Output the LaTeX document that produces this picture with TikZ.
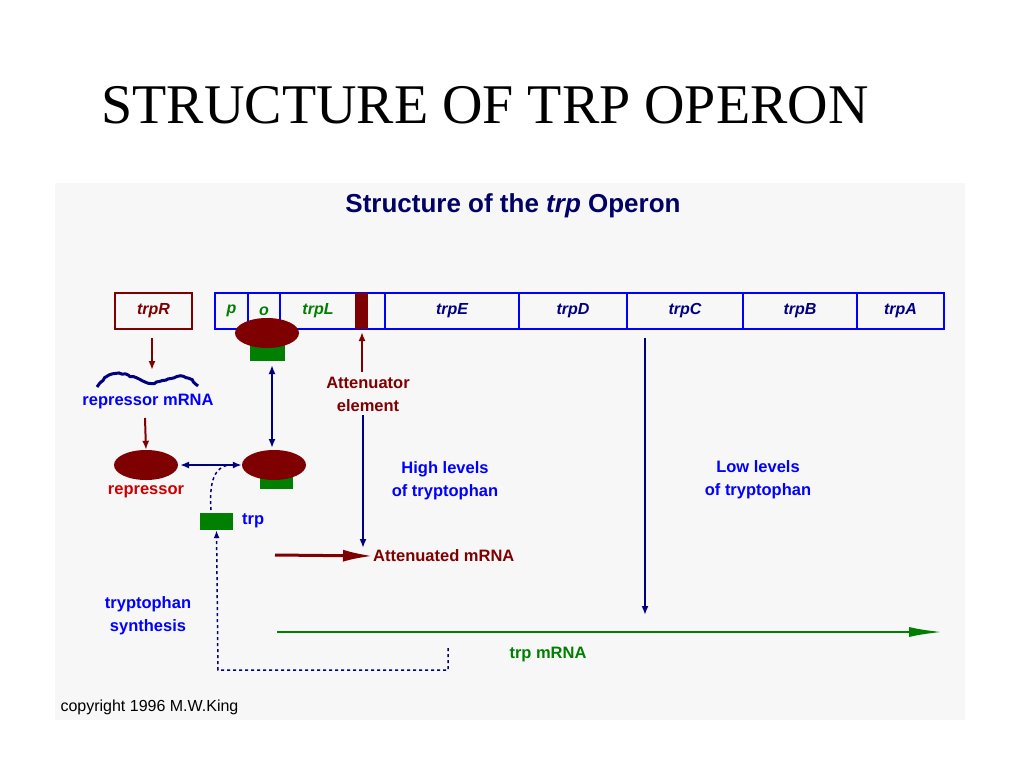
\documentclass[tikz,border=0pt]{standalone}
\usepackage{fontspec}
\setmainfont{Liberation Serif}
\setsansfont{Liberation Sans}
\usetikzlibrary{arrows.meta,decorations.pathmorphing,shapes.geometric}
\definecolor{dr}{HTML}{7F0000}
\definecolor{gr}{HTML}{007F00}
\definecolor{db}{HTML}{000080}
\tikzset{
 gene/.style={draw=blue,line width=1.2pt,minimum height=36pt,inner sep=0pt,font=\sffamily\bfseries\itshape\fontsize{16}{16}\selectfont},
 lbl/.style={font=\sffamily\bfseries\fontsize{16.5}{23}\selectfont,align=center,inner sep=0pt},
 rep/.style={ellipse,fill=dr,minimum width=64pt,minimum height=30pt,inner sep=0pt},
 trpbox/.style={fill=gr,inner sep=0pt},
 ar/.style={-{Latex[length=9pt,width=7pt]},line width=2pt},
}
\begin{document}
\begin{tikzpicture}[x=1pt,y=-1pt]
\useasboundingbox (0,0) rectangle (1024,768);
\fill[white] (0,0) rectangle (1024,768);
\fill[black!3] (55,183) rectangle (965,720);
\node[font=\fontsize{56}{56}\selectfont,anchor=west] (title) at (98,105) {STRUCTURE OF TRP OPERON};
\node[font=\sffamily\bfseries\fontsize{26}{26}\selectfont,text=db!80!black] (sub) at (513,206) {Structure of the \textit{trp} Operon};
% genes
\node[gene,draw=dr,text=dr,minimum width=77pt] (trpR) at (153.5,311) {trpR};
\node[gene,text=gr,minimum width=33pt] (p) at (231.5,311) {p};
\node[gene,text=gr,minimum width=32pt] (o) at (264,311) {o};
\node[gene,minimum width=105pt] (L) at (332.5,311) {};
\node[text=gr,inner sep=0pt,font=\sffamily\bfseries\itshape\fontsize{16}{16}\selectfont] (Lt) at (318,311) {trpL};
\fill[dr] (355,293) rectangle (368,329);
\coordinate (att) at (362,332);
\node[gene,text=db,minimum width=134pt] (E) at (452,311) {trpE};
\node[gene,text=db,minimum width=108pt] (D) at (573,311) {trpD};
\node[gene,text=db,minimum width=116pt] (C) at (685,311) {trpC};
\node[gene,text=db,minimum width=114pt] (B) at (800,311) {trpB};
\node[gene,text=db,minimum width=87pt] (A) at (900.5,311) {trpA};
% repressor mRNA
\draw[db,line width=3pt,decorate,decoration={random steps,segment length=3pt,amplitude=0.7pt}]
 (97,387) .. controls (110,368) and (122,372) .. (145,382) .. controls (165,388) and (178,364) .. (198,386);
\node[lbl,text=blue] (rm) at (148,402) {repressor mRNA};
\coordinate (r0s) at (152,338);
\coordinate (r0e) at (152,370);
\draw[ar,dr] (r0s) -- (r0e);
\node[rep] (r1) at (146,465) {};
\node[lbl,text=red!80!black] (rl) at (146,492) {repressor};
\coordinate (r1s) at (145,418);
\draw[ar,dr] (r1s) -- (r1.north);
% bound repressor
\node[trpbox,minimum width=35pt,minimum height=17pt] (g0) at (267.5,352.5) {};
\node[rep] (r0) at (267,333) {};
\node[trpbox,minimum width=33pt,minimum height=14pt] (g2) at (276.5,482) {};
\node[rep] (r2) at (274,465) {};
\coordinate (v1) at (272,365);
\coordinate (v2) at (272,448);
\draw[{Latex[length=9pt,width=7pt]}-{Latex[length=9pt,width=7pt]},line width=2pt,db] (v1) -- (v2);
\coordinate (h1) at (180,465);
\draw[{Latex[length=9pt,width=7pt]}-{Latex[length=9pt,width=7pt]},line width=2pt,db] (h1) -- (r2.west);
\node[trpbox,minimum width=33pt,minimum height=17pt] (t) at (216.5,521.5) {};
\node[lbl,text=blue,anchor=west] (tl) at (242,521) {trp};
\coordinate (c1) at (211,510);
\coordinate (c2) at (228,465);
\draw[dashed,line width=1.5pt,db] (c1) .. controls (209,480) and (215,468) .. (c2);
% attenuator
\node[lbl,text=dr] (attl) at (368,394) {Attenuator\\element};
\coordinate (a1) at (362,372);
\draw[ar,dr] (a1) -- (att);
\node[lbl,text=blue] (hl) at (445,481) {High levels\\of tryptophan};
\coordinate (hv1) at (363,415);
\coordinate (hv2) at (363,548);
\draw[ar,db] (hv1) -- (hv2);
\coordinate (rs) at (275,555);
\node[lbl,text=dr,anchor=west] (am) at (373,556) {Attenuated mRNA};
\draw[dr,line width=3pt,-{Latex[length=30pt,width=12pt]}] (rs) -- (am.west);
\node[lbl,text=blue] (ll) at (758,480) {Low levels\\of tryptophan};
\coordinate (lv1) at (645,338);
\coordinate (lv2) at (645,615);
\draw[ar,db] (lv1) -- (lv2);
\coordinate (gs) at (277,632);
\coordinate (ge) at (943,632);
\draw[gr,line width=2.5pt,-{Latex[length=34pt,width=10pt]}] (gs) -- (ge);
\node[lbl,text=gr] (tm) at (548,655) {trp mRNA};
\node[lbl,text=blue] (ts) at (148,616) {tryptophan\\synthesis};
\coordinate (d1) at (448,648);
\coordinate (d2) at (448,670);
\coordinate (d3) at (218,670);
\draw[dashed,line width=1.5pt,db,-{Latex[length=8pt,width=6pt]}] (d1) -- (d2) -- (d3) -- (t.south);
\node[font=\sffamily\fontsize{16}{16}\selectfont,anchor=west] (cp) at (57,707) {copyright 1996 M.W.King};
\end{tikzpicture}
\end{document}
